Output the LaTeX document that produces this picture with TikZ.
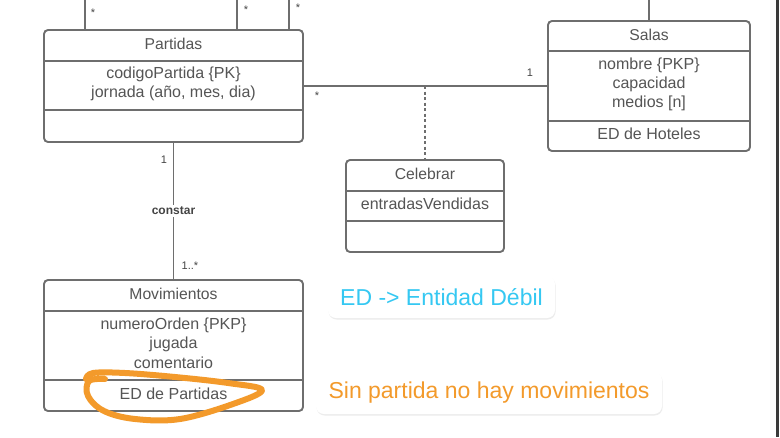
\documentclass[tikz,border=0pt]{standalone}
\usepackage{fontspec}
\setmainfont{Liberation Sans}
\usetikzlibrary{shadows,calc}
\definecolor{umlline}{HTML}{6E6E6E}
\definecolor{umltext}{HTML}{555555}
\definecolor{multtext}{HTML}{444444}
\definecolor{edcyan}{HTML}{35C8F2}
\definecolor{edorange}{HTML}{F39A2B}
\definecolor{edgeline}{HTML}{3A3A3A}
\begin{document}
\begin{tikzpicture}[x=1pt,y=-1pt,
  umlbox/.style={draw=umlline, line width=1.9pt, rounded corners=4pt, inner sep=0pt, outer sep=0pt, fill=white},
  sepline/.style={draw=umlline, line width=1.9pt},
  conn/.style={draw=umlline, line width=1.5pt},
  ttl/.style={text=umltext, font=\fontsize{15.7}{18}\selectfont, inner sep=0pt},
  attr/.style={text=umltext, font=\fontsize{16}{19}\selectfont, inner sep=0pt},
  mult/.style={text=multtext, font=\fontsize{11}{13}\selectfont, inner sep=0pt},
  rolelbl/.style={text=multtext, font=\bfseries\fontsize{12}{14}\selectfont, fill=white, inner sep=2pt},
  callout/.style={fill=white, rounded corners=8pt, inner sep=0pt,
     drop shadow={shadow xshift=0.6pt, shadow yshift=-1.5pt, opacity=0.15},
     font=\fontsize{23}{27}\selectfont},
  circled/.style={draw=edorange, line width=6pt, line cap=round, line join=round}
]
\useasboundingbox (0,0) rectangle (780,437);
\fill[white] (0,0) rectangle (780,437);

% right border of the screenshot
\coordinate (bt) at (777.5,0);
\coordinate (bb) at (777.5,437);
\draw[edgeline, line width=2.6pt] (bt) -- (bb);

% class boxes
\node[umlbox, minimum width=259pt, minimum height=112pt] (partidas) at (173.5,86) {};
\node[umlbox, minimum width=202pt, minimum height=130pt] (salas) at (649,86) {};
\node[umlbox, minimum width=158pt, minimum height=92pt] (celebrar) at (425,206) {};
\node[umlbox, minimum width=259pt, minimum height=131pt] (movs) at (173.5,345.5) {};

% compartments
\draw[sepline] ([yshift=-31pt]partidas.north west) -- ([yshift=-31pt]partidas.north east);
\draw[sepline] ([yshift=-80pt]partidas.north west) -- ([yshift=-80pt]partidas.north east);
\draw[sepline] ([yshift=-30pt]salas.north west) -- ([yshift=-30pt]salas.north east);
\draw[sepline] ([yshift=-100pt]salas.north west) -- ([yshift=-100pt]salas.north east);
\draw[sepline] ([yshift=-31pt]celebrar.north west) -- ([yshift=-31pt]celebrar.north east);
\draw[sepline] ([yshift=-61pt]celebrar.north west) -- ([yshift=-61pt]celebrar.north east);
\draw[sepline] ([yshift=-31pt]movs.north west) -- ([yshift=-31pt]movs.north east);
\draw[sepline] ([yshift=-100pt]movs.north west) -- ([yshift=-100pt]movs.north east);

% texts
\node[ttl] (tpart) at (173.5,44) {Partidas};
\node[attr] (apart1) at (173.5,74) {codigoPartida \{PK\}};
\node[attr] (apart2) at (173.5,93) {jornada (año, mes, dia)};

\node[ttl] (tsalas) at (649,34.5) {Salas};
\node[attr] (asal1) at (649,65.5) {nombre \{PKP\}};
\node[attr] (asal2) at (649,84.5) {capacidad};
\node[attr] (asal3) at (649,103.5) {medios [n]};
\node[attr] (asal4) at (649,134) {ED de Hoteles};

\node[ttl] (tcel) at (425,173.5) {Celebrar};
\node[attr] (acel1) at (425,204) {entradasVendidas};

\node[ttl] (tmov) at (173.5,293.5) {Movimientos};
\node[attr] (amov1) at (173.5,325) {numeroOrden \{PKP\}};
\node[attr] (amov2) at (173.5,344.5) {jugada};
\node[attr] (amov3) at (173.5,362.5) {comentario};
\node[attr] (amov4) at (173.5,393.5) {ED de Partidas};

% connectors going out of the top of the picture
\coordinate (up1) at (85,0);
\coordinate (up2) at (237,0);
\coordinate (up3) at (289,0);
\coordinate (up4) at (649,0);
\draw[conn] (up1) -- (up1 |- partidas.north);
\draw[conn] (up2) -- (up2 |- partidas.north);
\draw[conn] (up3) -- (up3 |- partidas.north);
\draw[conn] (up4) -- (salas.north);
\node[mult] (m1) at (93,13) {*};
\node[mult] (m2) at (246,9.5) {*};
\node[mult] (m3) at (298,7.5) {*};

% Partidas -- Salas with association class Celebrar
\draw[conn] (partidas.east) -- (salas.west);
\node[mult] (m4) at (317,95.5) {*};
\node[mult] (m5) at (530,73) {1};
\coordinate (assoc) at (celebrar.north |- partidas.east);
\draw[conn, dash pattern=on 3pt off 2.5pt] (assoc) -- (celebrar.north);

% Partidas -- Movimientos
\draw[conn] (partidas.south) -- node[rolelbl] (constar) {constar} (movs.north);
\node[mult] (m6) at (164,160) {1};
\node[mult] (m7) at (190,266) {1..*};

% callouts
\node[callout, minimum width=227pt, minimum height=42pt, text=edcyan] (ed) at (441.5,297) {ED -> Entidad Débil};
\node[callout, minimum width=346pt, minimum height=42pt, text=edorange] (sin) at (489,393) {Sin partida no hay movimientos};

% hand-drawn circle around "ED de Partidas"
\draw[circled] plot[smooth, tension=0.6] coordinates {(105,379) (89,381) (88,396) (104,411) (135,419) (180,419) (233,404) (262,390) (228,383) (175,377) (125,373) (93,373) (86,379)};
\end{tikzpicture}
\end{document}
